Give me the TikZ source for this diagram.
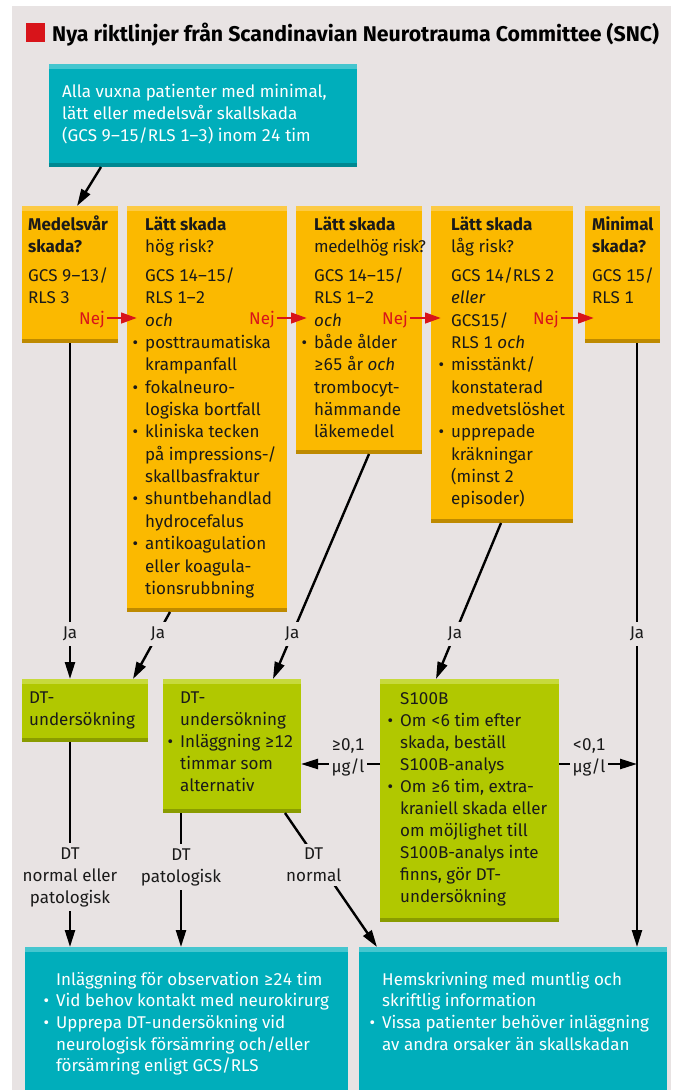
\documentclass[tikz,border=0pt]{standalone}
\usepackage{fontspec}
\setmainfont{Fira Sans}[Numbers={Monospaced}]
\newfontfamily\titlefont{Fira Sans}
\usetikzlibrary{arrows.meta,calc}
\definecolor{bg}{HTML}{E8E3E3}
\definecolor{tealM}{HTML}{00AEBB}
\definecolor{tealL}{HTML}{45C6CF}
\definecolor{tealD}{HTML}{008891}
\definecolor{orangeM}{HTML}{FBB900}
\definecolor{orangeL}{HTML}{FCCA45}
\definecolor{orangeD}{HTML}{BE8A00}
\definecolor{greenM}{HTML}{B1C800}
\definecolor{greenL}{HTML}{C7DA3C}
\definecolor{greenD}{HTML}{8A9C00}
\definecolor{redM}{HTML}{D8141A}
\definecolor{ink}{HTML}{1A1A1A}
\newcommand\Ln[1]{\hbox{#1}}
\newcommand\Bu[1]{\hbox{\llap{\textbullet\hskip7pt}#1}}
\newcommand\Gap{\vskip6.6pt}
\newcommand\Lines[2][22.36pt]{\vtop{\baselineskip=#1\relax\lineskiplimit=-20pt\lineskip=0pt #2}}
\newcommand\bodyfont{\fontsize{17}{22}\selectfont}
\tikzset{
  strips/.style 2 args={path picture={
    \fill[#1] (path picture bounding box.north west) rectangle ([yshift=-4.5pt]path picture bounding box.north east);
    \fill[#2] ([yshift=4.5pt]path picture bounding box.south west) rectangle (path picture bounding box.south east);}},
  boxbase/.style={inner sep=0pt, outer sep=0pt, anchor=north west, draw=none},
  obox/.style={boxbase, fill=orangeM, strips={orangeL}{orangeD}},
  gbox/.style={boxbase, fill=greenM, strips={greenL}{greenD}},
  tbox/.style={boxbase, fill=tealM, strips={tealL}{tealD}},
  txt/.style={inner sep=0pt, anchor=base west, font=\bodyfont, text=ink},
  wtxt/.style={txt, text=white},
  arr/.style={line width=2.4pt, draw=black, -{Triangle[length=17pt,width=10pt]}},
  rarr/.style={line width=2.8pt, draw=redM, -{Triangle[length=16pt,width=10.5pt]}},
  nej/.style={inner sep=0pt, anchor=base east, font=\bodyfont, text=redM},
  ja/.style={fill=bg, inner xsep=2pt, inner ysep=5pt, font=\bodyfont, text=ink},
  lab/.style={fill=bg, inner xsep=3pt, inner ysep=4pt, font=\bodyfont, text=ink, align=center},
}
\begin{document}
\begin{tikzpicture}[x=1pt,y=-1pt]
\useasboundingbox (0,0) rectangle (675,1090);
\clip (0,0) rectangle (675,1090);
\fill[white] (0,0) rectangle (675,1090);
\fill[bg] (12,6) rectangle (671,1090);
% title
\node[boxbase, fill=redM, minimum width=19pt, minimum height=19pt] (sq) at (26,23) {};
\node[inner sep=0pt, anchor=base west, text=black, font={\titlefont\bfseries\fontsize{21.3}{24}\selectfont}] (title) at (52,41) {Nya riktlinjer från Scandinavian Neurotrauma Committee (SNC)};
% boxes
\node[tbox, minimum width=308pt, minimum height=103pt] (top) at (49,64) {};
\node[obox, minimum width=96pt, minimum height=137pt] (b1) at (22,206) {};
\node[obox, minimum width=160pt, minimum height=406pt] (b2) at (127,206) {};
\node[obox, minimum width=126pt, minimum height=248pt] (b3) at (296,206) {};
\node[obox, minimum width=142pt, minimum height=317pt] (b4) at (431,206) {};
\node[obox, minimum width=75pt, minimum height=137pt] (b5) at (585,206) {};
\node[gbox, minimum width=126pt, minimum height=63pt] (g1) at (22,679) {};
\node[gbox, minimum width=138pt, minimum height=134pt] (g2) at (163,679) {};
\node[gbox, minimum width=179pt, minimum height=243pt] (g3) at (380,679) {};
\node[tbox, minimum width=323pt, minimum height=160pt] (bl) at (25,947) {};
\node[tbox, minimum width=308pt, minimum height=160pt] (br) at (359,947) {};
% texts
\node[wtxt] (ttop) at (62,97) {\Lines[22pt]{\Ln{Alla vuxna patienter med minimal,}\Ln{lätt eller medelsvår skallskada}\Ln{(GCS 9–15/RLS 1–3) inom 24 tim}}};
\node[txt] (t1) at (28,230) {\Lines{\Ln{\bfseries Medelsvår}\Ln{\bfseries skada?}\Gap\Ln{GCS 9–13/}\Ln{RLS 3}}};
\node[txt] (t2) at (145,230) {\Lines{\Ln{\bfseries Lätt skada}\Ln{hög risk?}\Gap\Ln{GCS 14–15/}\Ln{RLS 1–2}\Ln{\itshape och}\Bu{posttraumatiska}\Ln{krampanfall}\Bu{fokalneuro-}\Ln{logiska bortfall}\Bu{kliniska tecken}\Ln{på impressions-/}\Ln{skallbasfraktur}\Bu{shuntbehandlad}\Ln{hydrocefalus}\Bu{antikoagulation}\Ln{eller koagula-}\Ln{tionsrubbning}}};
\node[txt] (t3) at (314,230) {\Lines{\Ln{\bfseries Lätt skada}\Ln{\addfontfeature{LetterSpace=-2.5}medelhög risk?}\Gap\Ln{GCS 14–15/}\Ln{RLS 1–2}\Ln{\itshape och}\Bu{både ålder}\Ln{≥65 år \itshape och}\Ln{trombocyt-}\Ln{hämmande}\Ln{läkemedel}}};
\node[txt] (t4) at (451,230) {\Lines{\Ln{\bfseries Lätt skada}\Ln{låg risk?}\Gap\Ln{GCS 14/RLS 2}\Ln{\itshape eller}\Ln{GCS15/}\Ln{RLS 1 \itshape och}\Bu{misstänkt/}\Ln{konstaterad}\Ln{medvetslöshet}\Bu{upprepade}\Ln{kräkningar}\Ln{(minst 2}\Ln{episoder)}}};
\node[txt] (t5) at (592,230) {\Lines{\Ln{\bfseries Minimal}\Ln{\bfseries skada?}\Gap\Ln{GCS 15/}\Ln{RLS 1}}};
\node[txt] (tg1) at (29,703) {\Lines[22pt]{\Ln{DT-}\Ln{undersökning}}};
\node[txt] (tg2) at (180,703) {\Lines[22pt]{\Ln{DT-}\Ln{undersökning}\Bu{Inläggning ≥12}\Ln{timmar som}\Ln{alternativ}}};
\node[txt] (tg3) at (400,704) {\Lines[22pt]{\Ln{S100B}\Bu{Om <6 tim efter}\Ln{skada, beställ}\Ln{S100B-analys}\Bu{Om ≥6 tim, extra-}\Ln{kraniell skada eller}\Ln{om möjlighet till}\Ln{S100B-analys inte}\Ln{finns, gör DT-}\Ln{undersökning}}};
\node[wtxt] (tbl) at (56,985) {\Lines[21.7pt]{\Ln{Inläggning för observation ≥24 tim}\Bu{Vid behov kontakt med neurokirurg}\Bu{Upprepa DT-undersökning vid}\Ln{neurologisk försämring och/eller}\Ln{försämring enligt GCS/RLS}}};
\node[wtxt] (tbr) at (382,985) {\Lines[21.7pt]{\Ln{Hemskrivning med muntlig och}\Ln{skriftlig information}\Bu{Vissa patienter behöver inläggning}\Ln{av andra orsaker än skallskadan}}};
% connectors
\draw[arr] ($(top.south west)+(52,0)$) -- ($(b1.north west)+(55,0)$);
\node[nej] (nej1) at (105,324) {Nej};
\node[nej] (nej2) at (275,324) {Nej};
\node[nej] (nej3) at (408,324) {Nej};
\node[nej] (nej4) at (559,324) {Nej};
\draw[rarr] ($(nej1.base east)+(2,-6)$) -- ($(b2.north west)+(10,112)$);
\draw[rarr] ($(nej2.base east)+(2,-6)$) -- ($(b3.north west)+(11,112)$);
\draw[rarr] ($(nej3.base east)+(2,-6)$) -- ($(b4.north west)+(10,112)$);
\draw[rarr] ($(nej4.base east)+(2,-6)$) -- ($(b5.north west)+(9,112)$);
\draw[arr] ($(b1.south west)+(48,0)$) -- node[ja, pos=0.866] (ja1) {Ja} ($(g1.north west)+(48,0)$);
\draw[arr] ($(b2.south west)+(43,0)$) -- node[ja, pos=0.33] (ja2) {Ja} ($(g1.north west)+(111,0)$);
\draw[arr] ($(b3.south west)+(73,0)$) -- node[ja, pos=0.8] (ja3) {Ja} ($(g2.north west)+(110,0)$);
\draw[arr] ($(b4.south west)+(70,0)$) -- node[ja, pos=0.71] (ja4) {Ja} ($(g3.north west)+(56,0)$);
\draw[arr] ($(b5.south west)+(52,0)$) -- node[ja, pos=0.482] (ja5) {Ja} ($(br.north west)+(278,0)$);
\draw[arr] ($(g1.south west)+(48,0)$) -- node[lab, pos=0.659] (dt1) {DT\\normal eller\\patologisk} ($(bl.north west)+(45,0)$);
\draw[arr] ($(g2.south west)+(18,0)$) -- node[lab, pos=0.403] (dt2) {DT\\patologisk} ($(bl.north west)+(156,0)$);
\draw[arr] ($(g2.south west)+(122,0)$) -- node[lab, pos=0.388, xshift=-7pt] (dt3) {DT\\normal} ($(br.north west)+(18,0)$);
\draw[arr] ($(g3.north west)+(0,85)$) -- node[lab, pos=0.405, yshift=7pt] (s1) {≥0,1\\µg/l} ($(g2.north east)+(0,85)$);
\draw[arr] ($(g3.north east)+(0,85)$) -- node[lab, pos=0.385, yshift=7pt] (s2) {<0,1\\µg/l} ($(b5.south west)+(52,421)$);
\end{tikzpicture}
\end{document}
